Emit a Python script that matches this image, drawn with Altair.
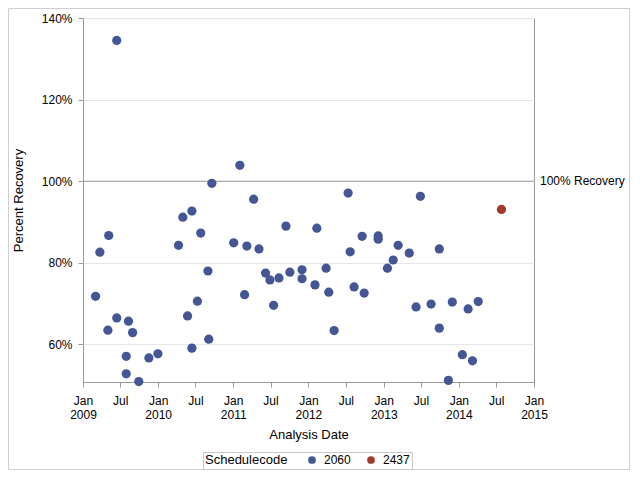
import altair as alt
import pandas as pd

# Schedulecode 2060
dates_2060 = [
    "2009-03-03", "2009-03-24", "2009-05-02", "2009-05-06", "2009-06-14", "2009-06-14",
    "2009-07-30", "2009-07-30", "2009-08-10", "2009-08-30", "2009-09-29", "2009-11-17",
    "2009-12-31", "2010-04-10", "2010-05-01", "2010-05-24", "2010-06-14", "2010-06-14",
    "2010-07-11", "2010-07-27", "2010-08-31", "2010-09-04", "2010-09-19", "2011-01-03",
    "2011-02-02", "2011-02-25", "2011-03-08", "2011-04-10", "2011-05-06", "2011-06-07",
    "2011-06-28", "2011-07-16", "2011-08-11", "2011-09-14", "2011-10-03", "2011-12-01",
    "2011-12-01", "2012-02-02", "2012-02-11", "2012-03-27", "2012-04-09", "2012-05-05",
    "2012-07-12", "2012-07-22", "2012-08-10", "2012-09-18", "2012-09-28", "2012-12-05",
    "2012-12-05", "2013-01-19", "2013-02-16", "2013-03-12", "2013-05-05", "2013-06-07",
    "2013-06-28", "2013-08-19", "2013-09-28", "2013-09-28", "2013-11-11", "2013-11-30",
    "2014-01-18", "2014-02-15", "2014-03-08", "2014-04-05",
]
values_2060 = [
    71.8, 82.6, 63.5, 86.7, 134.5, 66.5,
    57.1, 52.8, 65.7, 62.9, 50.9, 56.7,
    57.7, 84.3, 91.2, 67.0, 92.7, 59.1,
    70.6, 87.3, 78.0, 61.3, 99.5, 84.9,
    103.9, 72.2, 84.1, 95.6, 83.4, 77.5,
    75.8, 69.6, 76.3, 89.0, 77.7, 78.3,
    76.1, 74.6, 88.5, 78.7, 72.8, 63.4,
    97.1, 82.7, 74.1, 86.5, 72.6, 86.6,
    85.8, 78.7, 80.7, 84.3, 82.4, 69.2,
    96.3, 69.9, 83.4, 64.0, 51.2, 70.4,
    57.5, 68.7, 56.0, 70.5,
]
# Schedulecode 2437
dates_2437 = ["2014-07-27"]
values_2437 = [93.1]

codes = ["2060", "2437"]
colors = ["#445694", "#A23A2E"]
y_ticks = [60, 80, 100, 120, 140]

df = pd.DataFrame({
    "date": dates_2060 + dates_2437,
    "value": values_2060 + values_2437,
    "code": ["2060"] * len(dates_2060) + ["2437"] * len(dates_2437),
})

W, H = 451, 364
PL, PT, PR, PB = 75, 10, 96, 88
FONT = "Liberation Sans"

x_enc = alt.X(
    "date:T",
    scale=alt.Scale(
        type="utc",
        domain=[alt.DateTime(year=2009, month=1, date=1, utc=True),
                alt.DateTime(year=2015, month=1, date=1, utc=True)],
        nice=False,
    ),
    axis=alt.Axis(
        title="Analysis Date",
        tickCount={"interval": "month", "step": 6},
        labelExpr="utcmonth(datum.value) == 0 ? ['Jan', '' + utcyear(datum.value)] : 'Jul'",
        labelLineHeight=14,
        labelPadding=8,
        titlePadding=8,
        grid=False,
        domain=False,
        labelAngle=0,
        labelAlign="center",
    ),
)
y_enc = alt.Y(
    "value:Q",
    scale=alt.Scale(domain=[50.8, 140], nice=False, zero=False),
    axis=alt.Axis(
        title="Percent Recovery",
        values=y_ticks,
        labelExpr="datum.value + '%'",
        grid=True,
        gridColor="#e6e6e6",
        domain=False,
        labelPadding=6,
        titlePadding=16,
    ),
)

points = alt.Chart(df).mark_point(filled=True, opacity=1, size=85).encode(
    x=x_enc,
    y=y_enc,
    color=alt.Color(
        "code:N",
        scale=alt.Scale(domain=codes, range=colors),
        legend=alt.Legend(
            title="Schedulecode",
            orient="none",
            legendX=120,
            legendY=434,
            direction="horizontal",
            titleOrient="left",
            strokeColor="#c8c8c8",
            padding=2,
            symbolType="circle",
            symbolSize=60,
            titlePadding=18,
            columnPadding=14,
            labelOffset=6,
        ),
    ),
)

ref = alt.Chart(pd.DataFrame({"v": [100]})).mark_rule(color="#999999", strokeWidth=1).encode(
    y=alt.Y("v:Q")
)
ref_text = alt.Chart(pd.DataFrame({"v": [100], "t": ["100% Recovery"]})).mark_text(
    align="left", baseline="middle", dx=6, fontSize=12, font=FONT, color="#000000"
).encode(x=alt.value(W), y=alt.Y("v:Q"), text="t:N")

border = alt.Chart(pd.DataFrame({"a": [0]})).mark_rect(
    filled=False, stroke="#d0d0d0", strokeWidth=1
).encode(
    x=alt.value(-PL + 0.5), x2=alt.value(W + PR - 0.5),
    y=alt.value(-PT + 0.5), y2=alt.value(H + PB - 0.5),
)

chart = alt.layer(border, ref, points, ref_text).properties(
    width=W, height=H,
    autosize=alt.AutoSizeParams(type="none"),
    padding={"left": PL, "top": PT, "right": PR, "bottom": PB},
    background="white",
).configure_view(
    stroke="#999999", strokeWidth=1
).configure_axis(
    labelFont=FONT, titleFont=FONT, labelFontSize=12, titleFontSize=13,
    labelColor="#000000", titleColor="#000000", titleFontWeight="normal",
    tickColor="#999999", tickSize=5,
).configure_legend(
    labelFont=FONT, titleFont=FONT, labelFontSize=12, titleFontSize=13,
    titleFontWeight="normal", labelColor="#000000", titleColor="#000000",
)

chart.save("out.html", embed_options={"renderer": "svg", "actions": False})
